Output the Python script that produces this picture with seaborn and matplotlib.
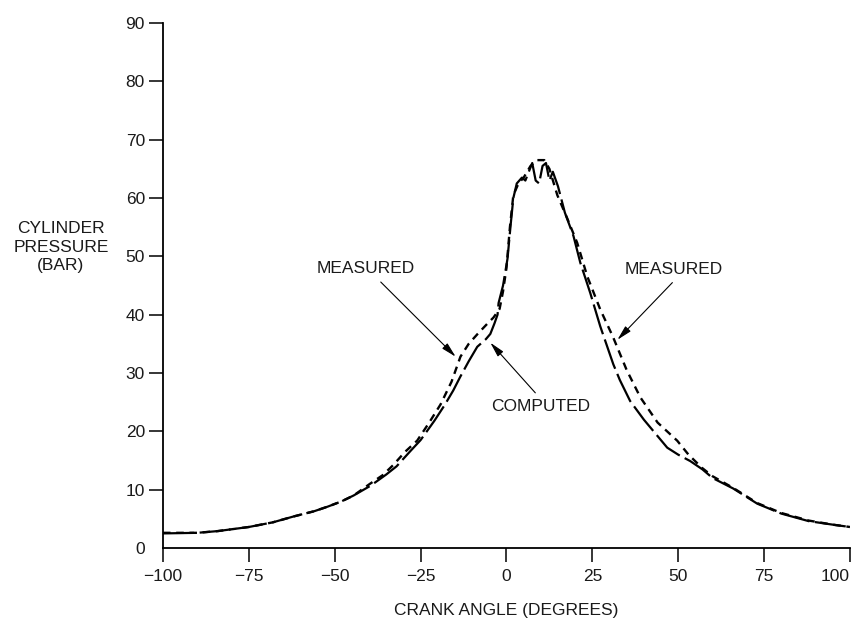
import numpy as np
import pandas as pd
import matplotlib
matplotlib.use("Agg")
import matplotlib.pyplot as plt
import seaborn as sns

"""
Cylinder pressure vs crank angle, values read off the reference figure
"""
computed_angle = [-100, -90, -84, -75, -68, -62, -56, -52, -48, -44.5, -39.5, -35, -32, -28,
                  -25, -21, -18, -15.5, -13.5, -11, -8.5, -6, -4.7, -3.5, -2.6, -2.3, -1.0,
                  0.3, 1.2, 2, 3, 4.5, 5.5, 6.5, 7.5, 8.5, 9.5, 10.5, 11.5, 12.5, 13.5, 15,
                  17, 19.5, 21.5, 24.4, 27.3, 31.1, 33, 36, 40, 46.8, 50, 53.5, 57, 60, 66,
                  73, 80, 88, 95, 100]
computed_bar = [2.5, 2.6, 2.9, 3.6, 4.4, 5.4, 6.3, 7.1, 8.0, 9.0, 10.7, 12.6, 14.0, 16.6,
                18.5, 21.8, 24.5, 27.0, 29.3, 32.0, 34.5, 35.8, 36.7, 38.5, 40.0, 42.0, 45.0,
                49.6, 55.3, 60.0, 62.5, 63.5, 63.0, 64.5, 66.0, 63.0, 62.5, 65.5, 66.0, 63.0,
                64.5, 62.0, 57.5, 53.5, 48.9, 43.7, 38.0, 31.5, 28.8, 25.2, 22.0, 17.2, 16.0,
                14.9, 13.5, 12.0, 10.2, 7.6, 5.9, 4.6, 4.0, 3.6]

measured_angle = [-100, -90, -84, -75, -68, -62, -56, -52, -48, -44.5, -40, -36, -33, -29.5,
                  -26, -22.5, -19.2, -16, -13.4, -11, -8.4, -5.5, -3.8, -2, -1, 0, 1, 2, 3.5,
                  5, 7, 9, 11, 12.5, 14.8, 17.7, 20.6, 23.5, 27.3, 31, 35, 39, 44, 49.7, 53,
                  57, 60, 66, 73, 80, 88, 95, 100]
measured_bar = [2.6, 2.6, 2.9, 3.6, 4.4, 5.4, 6.3, 7.1, 8.0, 9.0, 10.9, 12.5, 14.2, 16.5,
                18.4, 21.5, 24.6, 28.5, 32.8, 35.0, 36.7, 38.5, 39.5, 41.0, 44.0, 48.0, 55.0,
                60.5, 62.5, 63.5, 65.5, 66.5, 66.5, 65.0, 60.5, 56.5, 52.3, 46.6, 40.9, 36.2,
                30.5, 25.8, 21.5, 18.4, 16.0, 13.7, 12.3, 10.3, 7.7, 6.0, 4.7, 4.0, 3.6]

x_ticks = [-100, -75, -50, -25, 0, 25, 50, 75, 100]
y_ticks = [0, 10, 20, 30, 40, 50, 60, 70, 80, 90]

computed = pd.DataFrame({"angle": computed_angle, "bar": computed_bar})
measured = pd.DataFrame({"angle": measured_angle, "bar": measured_bar})

sns.set_style("ticks")
plt.rcParams['font.family'] = ['Liberation Sans', 'DejaVu Sans']
plt.rcParams['axes.unicode_minus'] = True

fs = 12.5
ink = "#1a1a1a"

fig = plt.figure(figsize=(8.51, 6.23), dpi=100)
ax = fig.add_axes([0.1915, 0.1204, 0.8073, 0.8426])

sns.lineplot(data=measured, x="angle", y="bar", ax=ax, color="black", lw=1.7,
             estimator=None, linestyle=(0, (3.2, 2.4)))
sns.lineplot(data=computed, x="angle", y="bar", ax=ax, color="black", lw=1.6,
             estimator=None, linestyle=(0, (14, 2.5)))

ax.set_xlim(-100, 100)
ax.set_ylim(0, 90)
ax.set_xticks(x_ticks)
ax.set_yticks(y_ticks)
sns.despine(ax=ax)
for s in ["left", "bottom"]:
    ax.spines[s].set_linewidth(1.3)
    ax.spines[s].set_color("black")
ax.tick_params(axis="both", direction="out", length=10, width=1.1, colors="black",
               labelsize=fs, labelcolor=ink, pad=3)
ax.tick_params(axis="x", pad=5)
ax.yaxis.get_major_ticks()[0].tick1line.set_visible(False)

# last x label would be cut at the figure edge, pull it inwards like the original
ax.set_xticklabels([f"{t}".replace("-", "\u2212") for t in x_ticks])
last = ax.get_xticklabels()[-1]
last.set_horizontalalignment("right")

ax.set_xlabel("CRANK ANGLE (DEGREES)", fontsize=fs, labelpad=14, color=ink)
ax.set_ylabel("")
fig.text(61 / 851, 1 - 247 / 623, "CYLINDER\nPRESSURE\n(BAR)", ha="center", va="center",
         fontsize=fs, linespacing=1.3, color=ink)

"""
Labels with arrows
"""
arrow = dict(arrowstyle="-|>,head_length=0.9,head_width=0.22", color="black", lw=0.8,
             shrinkA=0, shrinkB=0)
ax.text(-41, 48, "MEASURED", ha="center", va="center", fontsize=fs, color=ink)
ax.annotate("", xy=(-14.8, 32.8), xytext=(-36.6, 45.6), arrowprops=arrow)
ax.text(48.8, 47.7, "MEASURED", ha="center", va="center", fontsize=fs, color=ink)
ax.annotate("", xy=(32.3, 35.7), xytext=(48.3, 45.5), arrowprops=arrow)
ax.text(9.9, 24.2, "COMPUTED", ha="center", va="center", fontsize=fs, color=ink)
ax.annotate("", xy=(-4.7, 35.2), xytext=(8.4, 26.6), arrowprops=arrow)

fig.savefig("out.png", dpi=100)
